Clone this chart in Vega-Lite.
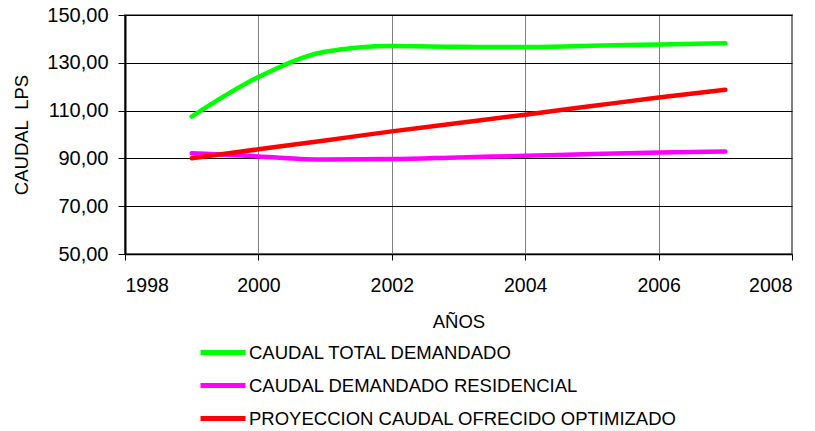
{
  "$schema": "https://vega.github.io/schema/vega-lite/v6.json",
  "autosize": {"type": "none"},
  "width": 667,
  "height": 239,
  "padding": {"left": 125, "top": 15, "right": 23, "bottom": 177},
  "background": "white",
  "data": {"values": [
    {"year": 1999, "serie": "CAUDAL TOTAL DEMANDADO", "v": 107.5},
    {"year": 2000, "serie": "CAUDAL TOTAL DEMANDADO", "v": 124.0},
    {"year": 2001, "serie": "CAUDAL TOTAL DEMANDADO", "v": 134.6},
    {"year": 2002, "serie": "CAUDAL TOTAL DEMANDADO", "v": 137.0},
    {"year": 2003, "serie": "CAUDAL TOTAL DEMANDADO", "v": 136.7},
    {"year": 2004, "serie": "CAUDAL TOTAL DEMANDADO", "v": 136.6},
    {"year": 2005, "serie": "CAUDAL TOTAL DEMANDADO", "v": 137.1},
    {"year": 2006, "serie": "CAUDAL TOTAL DEMANDADO", "v": 137.7},
    {"year": 2007, "serie": "CAUDAL TOTAL DEMANDADO", "v": 138.2},
    {"year": 1999, "serie": "CAUDAL DEMANDADO RESIDENCIAL", "v": 92.2},
    {"year": 2000, "serie": "CAUDAL DEMANDADO RESIDENCIAL", "v": 90.8},
    {"year": 2001, "serie": "CAUDAL DEMANDADO RESIDENCIAL", "v": 89.5},
    {"year": 2002, "serie": "CAUDAL DEMANDADO RESIDENCIAL", "v": 89.7},
    {"year": 2003, "serie": "CAUDAL DEMANDADO RESIDENCIAL", "v": 90.4},
    {"year": 2004, "serie": "CAUDAL DEMANDADO RESIDENCIAL", "v": 91.1},
    {"year": 2005, "serie": "CAUDAL DEMANDADO RESIDENCIAL", "v": 91.8},
    {"year": 2006, "serie": "CAUDAL DEMANDADO RESIDENCIAL", "v": 92.5},
    {"year": 2007, "serie": "CAUDAL DEMANDADO RESIDENCIAL", "v": 92.9},
    {"year": 1999, "serie": "PROYECCION CAUDAL OFRECIDO OPTIMIZADO", "v": 90.1},
    {"year": 2000, "serie": "PROYECCION CAUDAL OFRECIDO OPTIMIZADO", "v": 93.8},
    {"year": 2001, "serie": "PROYECCION CAUDAL OFRECIDO OPTIMIZADO", "v": 97.5},
    {"year": 2002, "serie": "PROYECCION CAUDAL OFRECIDO OPTIMIZADO", "v": 101.3},
    {"year": 2003, "serie": "PROYECCION CAUDAL OFRECIDO OPTIMIZADO", "v": 104.8},
    {"year": 2004, "serie": "PROYECCION CAUDAL OFRECIDO OPTIMIZADO", "v": 108.3},
    {"year": 2005, "serie": "PROYECCION CAUDAL OFRECIDO OPTIMIZADO", "v": 111.9},
    {"year": 2006, "serie": "PROYECCION CAUDAL OFRECIDO OPTIMIZADO", "v": 115.5},
    {"year": 2007, "serie": "PROYECCION CAUDAL OFRECIDO OPTIMIZADO", "v": 118.7}
  ]},
  "mark": {"type": "line", "interpolate": "monotone", "strokeWidth": 4.5, "strokeCap": "round"},
  "encoding": {
    "x": {
      "field": "year", "type": "quantitative",
      "scale": {"domain": [1998, 2008], "nice": false, "zero": false},
      "axis": {
        "values": [1998, 2000, 2002, 2004, 2006, 2008], "format": "d",
        "title": "AÑOS", "titleFont": "Liberation Sans", "titleFontSize": 18.5, "titleFontWeight": "normal",
        "titleColor": "black", "titlePadding": 18,
        "labelFont": "Liberation Sans", "labelFontSize": 19.5, "labelColor": "black", "labelPadding": 16,
        "domainColor": "black", "domainWidth": 1.5, "tickColor": "black", "tickSize": 6,
        "grid": true, "gridColor": "#808080", "gridWidth": 1
      }
    },
    "y": {
      "field": "v", "type": "quantitative",
      "scale": {"domain": [50, 150], "nice": false, "zero": false},
      "axis": {
        "values": [50, 70, 90, 110, 130, 150],
        "labelExpr": "replace(format(datum.value, '.2f'), '.', ',')",
        "title": "CAUDAL\u00a0\u00a0LPS", "titleFont": "Liberation Sans", "titleFontSize": 18.5, "titleFontWeight": "normal",
        "titleColor": "black", "titlePadding": 15,
        "labelFont": "Liberation Sans", "labelFontSize": 20, "labelColor": "black", "labelPadding": 10,
        "domainColor": "black", "domainWidth": 2, "tickColor": "black", "tickSize": 7,
        "grid": true, "gridColor": "black", "gridWidth": 1
      }
    },
    "color": {
      "field": "serie", "type": "nominal",
      "scale": {
        "domain": ["CAUDAL TOTAL DEMANDADO", "CAUDAL DEMANDADO RESIDENCIAL", "PROYECCION CAUDAL OFRECIDO OPTIMIZADO"],
        "range": ["#00ff00", "#ff00ff", "#ff0000"]
      },
      "legend": {
        "title": null, "orient": "none", "legendX": 73, "legendY": 321,
        "symbolType": "stroke", "symbolStrokeWidth": 5, "symbolSize": 2025,
        "clipHeight": 33,
        "labelFont": "Liberation Sans", "labelFontSize": 18.5, "labelColor": "black", "labelLimit": 600,
        "rowPadding": 0, "labelOffset": 1, "symbolOffset": 0
      }
    }
  },
  "config": {
    "view": {"stroke": "#808080", "strokeWidth": 2}
  }
}
